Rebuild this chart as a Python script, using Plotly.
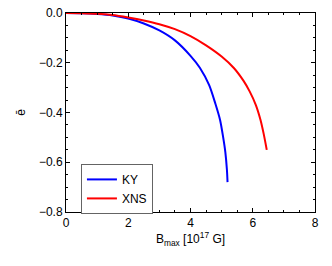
import plotly.graph_objects as go

ky_x = [0, 0.5, 1.0, 1.5, 2.0, 2.5, 3.0, 3.5, 4.0, 4.3, 4.6, 4.8, 4.95, 5.05, 5.12, 5.17, 5.19]
ky_y = [0, -0.001, -0.004, -0.010, -0.022, -0.042, -0.070, -0.110, -0.172, -0.22, -0.29, -0.365, -0.43, -0.50, -0.56, -0.63, -0.68]

xns_x = [0, 0.5, 1.0, 1.5, 2.0, 2.5, 3.0, 3.5, 4.0, 4.5, 5.0, 5.4, 5.7, 5.9, 6.1, 6.25, 6.35, 6.45]
xns_y = [0, -0.001, -0.003, -0.008, -0.018, -0.030, -0.045, -0.065, -0.093, -0.130, -0.175, -0.222, -0.272, -0.315, -0.37, -0.43, -0.485, -0.55]

x_ticks = [0, 2, 4, 6, 8]
y_ticks = [0.0, -0.2, -0.4, -0.6, -0.8]
y_labels = ["0.0", "\u22120.2", "\u22120.4", "\u22120.6", "\u22120.8"]

fig = go.Figure()
fig.add_trace(go.Scatter(x=ky_x, y=ky_y, mode="lines", name="KY",
                         line=dict(color="rgb(0,0,255)", width=2, shape="spline", smoothing=0.8)))
fig.add_trace(go.Scatter(x=xns_x, y=xns_y, mode="lines", name="XNS",
                         line=dict(color="rgb(255,0,0)", width=2, shape="spline", smoothing=0.8)))

axis_common = dict(showgrid=False, zeroline=False, showline=True, linecolor="black",
                   linewidth=1, mirror="allticks", ticks="inside", ticklen=4,
                   tickcolor="black", tickfont=dict(size=12, color="black"),
                   automargin=False, ticklabeloverflow="allow")

fig.update_xaxes(range=[0, 8], tickvals=x_ticks, ticktext=[str(v) for v in x_ticks],
                 minor=dict(dtick=0.5, ticks="inside", ticklen=2, tickcolor="black"),
                 title=dict(text="B<sub>max</sub> [10<sup>17</sup> G]", font=dict(size=12), standoff=4),
                 **axis_common)
fig.update_yaxes(range=[-0.8, 0], tickvals=y_ticks, ticktext=y_labels,
                 minor=dict(dtick=0.05, ticks="inside", ticklen=2, tickcolor="black"),
                 title=dict(text="\u0113", font=dict(size=12), standoff=10),
                 **axis_common)

# the page body adds an 8px offset, so the figure is sized and margined to compensate
fig.update_layout(
    width=324, height=258,
    margin=dict(l=58, r=17, t=5, b=54),
    paper_bgcolor="white", plot_bgcolor="white",
    font=dict(family="Liberation Sans, Arial, sans-serif", size=12, color="black"),
    showlegend=True,
    legend=dict(x=0.06, y=0.116, xanchor="left", yanchor="middle",
                bordercolor="rgb(100,100,100)", borderwidth=1, bgcolor="white",
                font=dict(size=12), tracegroupgap=0, itemwidth=30,
                traceorder="normal"),
)

fig.write_html("out.html")
